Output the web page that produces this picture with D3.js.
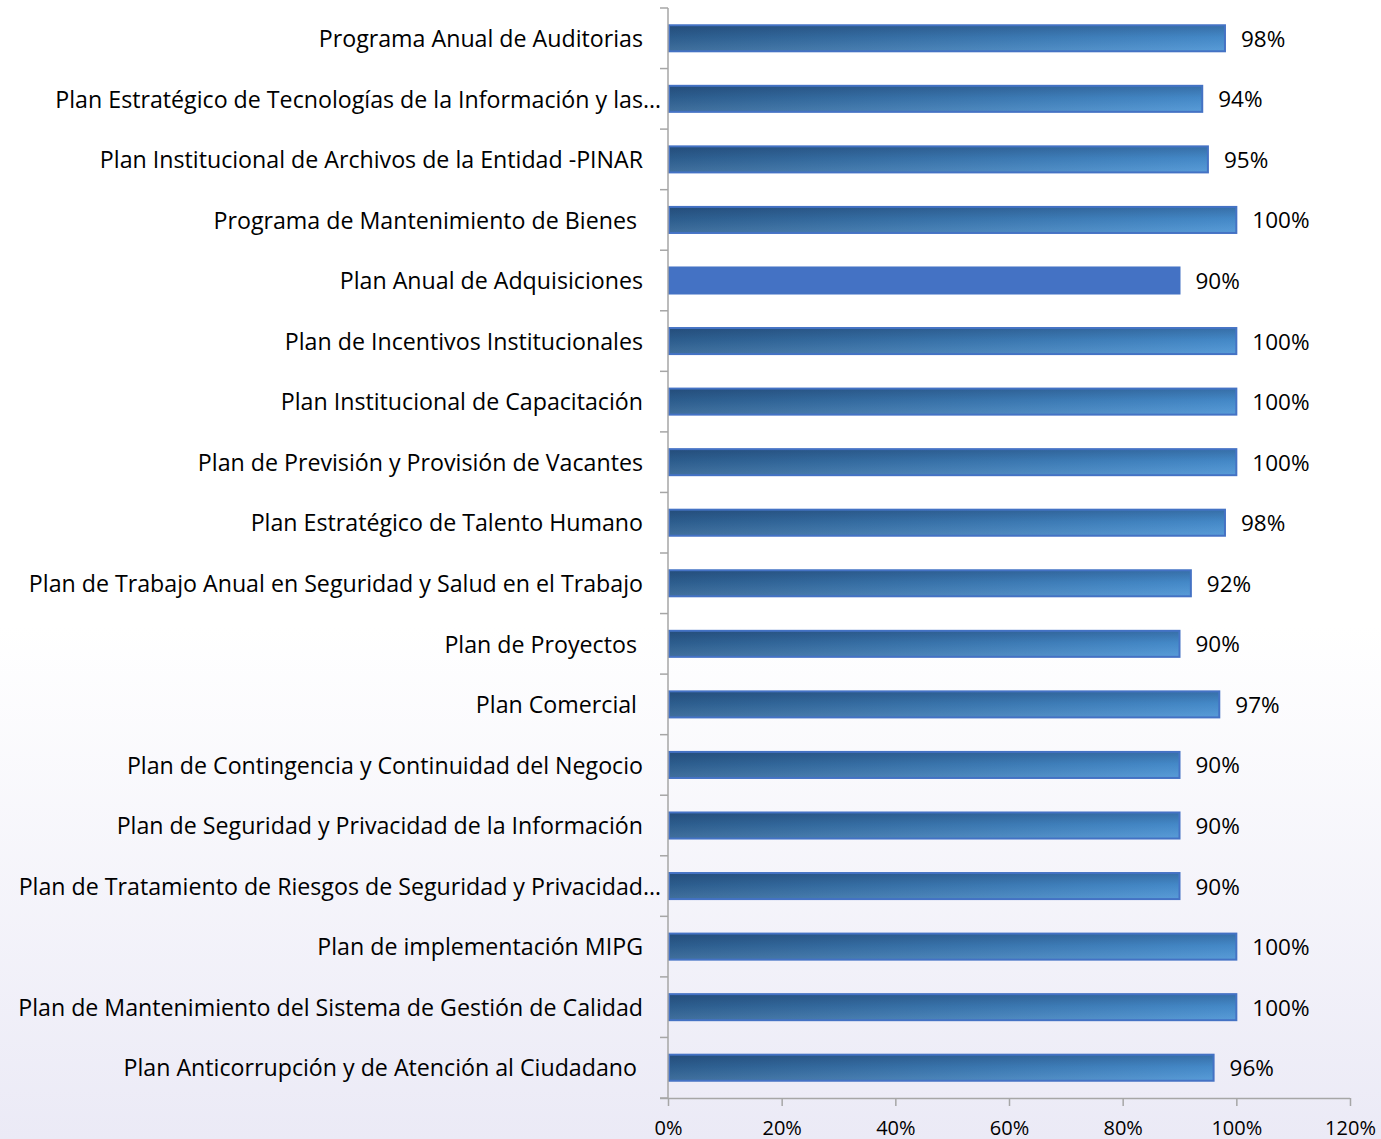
<!DOCTYPE html>
<html><head><meta charset="utf-8">
<script src="https://cdn.jsdelivr.net/npm/d3@7"></script>
<style>
html,body{margin:0;padding:0;}
svg{display:block;}
text{font-family:"Open Sans",sans-serif;fill:#000;}
</style></head>
<body>
<svg id="chart" width="1381" height="1139"></svg>
<script>
const categories = [
  "Programa Anual de Auditorias",
  "Plan Estratégico de Tecnologías de la Información y las…",
  "Plan Institucional de Archivos de la Entidad -PINAR",
  "Programa de Mantenimiento de Bienes ",
  "Plan Anual de Adquisiciones",
  "Plan de Incentivos Institucionales",
  "Plan Institucional de Capacitación",
  "Plan de Previsión y Provisión de Vacantes",
  "Plan Estratégico de Talento Humano",
  "Plan de Trabajo Anual en Seguridad y Salud en el Trabajo",
  "Plan de Proyectos ",
  "Plan Comercial ",
  "Plan de Contingencia y Continuidad del Negocio",
  "Plan de Seguridad y Privacidad de la Información",
  "Plan de Tratamiento de Riesgos de Seguridad y Privacidad…",
  "Plan de implementación MIPG",
  "Plan de Mantenimiento del Sistema de Gestión de Calidad",
  "Plan Anticorrupción y de Atención al Ciudadano "
];
const values = [0.98,0.94,0.95,1.00,0.90,1.00,1.00,1.00,0.98,0.92,0.90,0.97,0.90,0.90,0.90,1.00,1.00,0.96];
const valueLabels = ["98%","94%","95%","100%","90%","100%","100%","100%","98%","92%","90%","97%","90%","90%","90%","100%","100%","96%"];
const solidIndex = [4];
const xTicks = [0,0.2,0.4,0.6,0.8,1.0,1.2];
const xTickLabels = ["0%","20%","40%","60%","80%","100%","120%"];

(function(){
const svg = d3.select("#chart");
const W = 1381, H = 1139;
const defs = svg.append("defs");

const bg = defs.append("linearGradient").attr("id","bg").attr("x1",0).attr("y1",0).attr("x2",0).attr("y2",1);
bg.append("stop").attr("offset","0%").attr("stop-color","#ffffff");
bg.append("stop").attr("offset","55%").attr("stop-color","#ffffff");
bg.append("stop").attr("offset","100%").attr("stop-color","#ebeaf6");
svg.append("rect").attr("width",W).attr("height",H).attr("fill","url(#bg)");

const gh = defs.append("linearGradient").attr("id","barH").attr("x1",0).attr("y1",0).attr("x2",1).attr("y2",0);
gh.append("stop").attr("offset","0%").attr("stop-color","#2f6293");
gh.append("stop").attr("offset","100%").attr("stop-color","#4992d3");
const gv = defs.append("linearGradient").attr("id","barV").attr("x1",0).attr("y1",0).attr("x2",0).attr("y2",1);
gv.append("stop").attr("offset","0%").attr("stop-color","#0a1a40").attr("stop-opacity",0.28);
gv.append("stop").attr("offset","45%").attr("stop-color","#0a1a40").attr("stop-opacity",0.08);
gv.append("stop").attr("offset","100%").attr("stop-color","#ffffff").attr("stop-opacity",0.08);

const mLeft = 668, mRight = 1350, mTop = 8, mBottom = 1098;
const x = d3.scaleLinear().domain([0,1.2]).range([mLeft,mRight]);
const y = d3.scaleBand().domain(categories).range([mTop,mBottom]).paddingInner(0.57).paddingOuter(0.285);

const g = svg.append("g");
const bars = g.selectAll("g.bar").data(categories).join("g").attr("class","bar");
bars.append("rect")
  .attr("x", x(0)+1)
  .attr("y", d=>y(d))
  .attr("width", (d,i)=>x(values[i])-x(0)-1)
  .attr("height", y.bandwidth())
  .attr("fill", (d,i)=> solidIndex.includes(i) ? "#4472c4" : "url(#barH)")
  .attr("stroke","#4472c4").attr("stroke-width",2);
bars.filter((d,i)=>!solidIndex.includes(i)).append("rect")
  .attr("x", x(0)+2)
  .attr("y", d=>y(d)+1)
  .attr("width", d=>x(values[categories.indexOf(d)])-x(0)-3)
  .attr("height", y.bandwidth()-2)
  .attr("fill","url(#barV)");

g.selectAll("text.val").data(categories).join("text").attr("class","val")
  .attr("x",(d,i)=>x(values[i])+16)
  .attr("y",d=>y(d)+y.bandwidth()/2+2.5)
  .attr("dominant-baseline","middle")
  .attr("font-size",22.5)
  .text((d,i)=>valueLabels[i]);

g.selectAll("text.cat").data(categories).join("text").attr("class","cat")
  .attr("x",d=> d.endsWith("…") ? mLeft-7 : mLeft-25)
  .attr("y",d=>y(d)+y.bandwidth()/2+2.5)
  .attr("dominant-baseline","middle")
  .attr("text-anchor","end")
  .attr("font-size",23.2)
  .style("white-space","pre")
  .text(d=>d);

const yAxis = svg.append("g").attr("stroke","#a6a6a6").attr("stroke-width",1.5);
yAxis.append("line").attr("x1",mLeft).attr("x2",mLeft).attr("y1",mTop).attr("y2",mBottom);
const bounds = d3.range(categories.length+1).map(i=>mTop+i*((mBottom-mTop)/categories.length));
yAxis.selectAll("line.t").data(bounds).join("line").attr("class","t")
  .attr("x1",mLeft-8).attr("x2",mLeft).attr("y1",d=>d).attr("y2",d=>d);

const xAxis = svg.append("g").attr("transform",`translate(0,${mBottom})`)
  .call(d3.axisBottom(x).tickValues(xTicks).tickSize(8).tickFormat((d,i)=>xTickLabels[i]));
xAxis.select(".domain").attr("stroke","#a6a6a6").attr("stroke-width",1.5).attr("d",`M${mLeft-8},0.5H${mRight}`);
xAxis.selectAll(".tick line").attr("stroke","#a6a6a6").attr("stroke-width",1.5);
xAxis.selectAll(".tick text").attr("font-size",20).attr("font-family","'Open Sans',sans-serif").attr("fill","#000").attr("dy","0").attr("y",36.5);
})();
</script>
</body></html>
